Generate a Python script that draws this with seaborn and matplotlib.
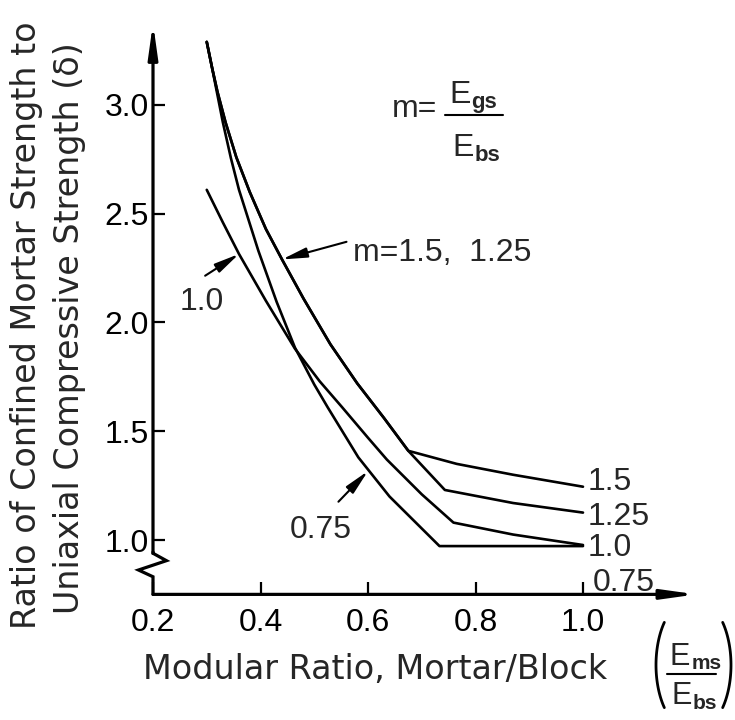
import matplotlib
matplotlib.use("Agg")
import matplotlib.pyplot as plt
from matplotlib.lines import Line2D
import numpy as np
import seaborn as sns

# ---------------- data ----------------
x_ticks = [0.2, 0.4, 0.6, 0.8, 1.0]
x_tick_labels = ["0.2", "0.4", "0.6", "0.8", "1.0"]
y_ticks = [1.0, 1.5, 2.0, 2.5, 3.0]
y_tick_labels = ["1.0", "1.5", "2.0", "2.5", "3.0"]

m_labels = ["1.5", "1.25", "1.0", "0.75"]

m150_x = [0.300, 0.310, 0.320, 0.335, 0.355, 0.380, 0.410, 0.440, 0.480, 0.530, 0.580, 0.630, 0.675, 0.765, 0.870, 1.000]
m150_y = [3.29, 3.17, 3.06, 2.92, 2.76, 2.60, 2.43, 2.29, 2.11, 1.90, 1.72, 1.56, 1.41, 1.35, 1.30, 1.245]

m125_x = [0.300, 0.310, 0.320, 0.335, 0.355, 0.380, 0.410, 0.440, 0.480, 0.530, 0.580, 0.630, 0.675, 0.743, 0.870, 1.000]
m125_y = [3.29, 3.17, 3.06, 2.92, 2.76, 2.60, 2.43, 2.29, 2.11, 1.90, 1.72, 1.56, 1.41, 1.23, 1.17, 1.126]

m100_x = [0.300, 0.330, 0.360, 0.410, 0.464, 0.510, 0.552, 0.600, 0.635, 0.700, 0.759, 0.870, 1.000]
m100_y = [2.61, 2.46, 2.315, 2.10, 1.88, 1.73, 1.61, 1.47, 1.37, 1.21, 1.08, 1.025, 0.977]

m075_x = [0.300, 0.310, 0.318, 0.330, 0.345, 0.360, 0.396, 0.430, 0.464, 0.500, 0.525, 0.582, 0.640, 0.733, 1.000]
m075_y = [3.29, 3.17, 3.07, 2.92, 2.755, 2.61, 2.33, 2.095, 1.885, 1.715, 1.61, 1.38, 1.20, 0.972, 0.972]

series = {"1.5": (m150_x, m150_y), "1.25": (m125_x, m125_y),
          "1.0": (m100_x, m100_y), "0.75": (m075_x, m075_y)}

# ---------------- style ----------------
W, H = 735, 720
sns.set_theme(style="white")
NUM_FAMILY = ["Liberation Sans", "DejaVu Sans"]
LABEL_FAMILY = ["DejaVu Sans"]
plt.rcParams["font.family"] = NUM_FAMILY

fig = plt.figure(figsize=(W / 100, H / 100), dpi=100)
fig.patch.set_facecolor("white")

X0_PX, X_SCALE = 153, 537.5   # x = 0.2 at pixel column 153
Y1_PX, Y_SCALE = 540, 217.5   # y = 1.0 at pixel row 540
xlim = (0.2, 1.25)
ylim = (0.75, 3.4)
right_px = X0_PX + (xlim[1] - xlim[0]) * X_SCALE
bottom_py = Y1_PX + (1 - ylim[0]) * Y_SCALE
top_py = Y1_PX - (ylim[1] - 1) * Y_SCALE
ax = fig.add_axes([X0_PX / W, 1 - bottom_py / H, (right_px - X0_PX) / W, (bottom_py - top_py) / H])
ax.set_xlim(*xlim)
ax.set_ylim(*ylim)
ax.patch.set_alpha(0)
for s in ax.spines.values():
    s.set_visible(False)
ax.grid(False)

def fx(px):
    return np.asarray(px) / W

def fy(py):
    return 1 - np.asarray(py) / H

# ---------------- curves ----------------
for m in m_labels:
    xs, ys = series[m]
    sns.lineplot(x=xs, y=ys, ax=ax, color="black", lw=1.9, sort=False,
                 estimator=None, legend=False)

# ---------------- axes with arrows and break ----------------
axis_lw = 2.3
ax.plot([0.2, 0.2, 0.225, 0.173, 0.2, 0.2], [0.945, 0.939, 0.905, 0.862, 0.831, 0.75],
        color="black", lw=axis_lw, clip_on=False, solid_joinstyle="miter")
head = "-|>,head_length=1.0,head_width=0.14"
ax.annotate("", xy=(0.2, 3.377), xytext=(0.2, 0.939), annotation_clip=False,
            arrowprops=dict(arrowstyle=head, color="black", lw=axis_lw,
                            shrinkA=0, shrinkB=0, mutation_scale=20))
ax.annotate("", xy=(1.211, 0.75), xytext=(0.2, 0.75), annotation_clip=False,
            arrowprops=dict(arrowstyle=head, color="black", lw=axis_lw,
                            shrinkA=0, shrinkB=0, mutation_scale=20))

NUM_FS = 23
ax.set_xticks(x_ticks)
ax.set_xticklabels(x_tick_labels)
ax.set_yticks(y_ticks)
ax.set_yticklabels(y_tick_labels)
ax.tick_params(axis="both", which="major", direction="in", length=8.5, width=1.6,
               color="black", labelsize=NUM_FS, labelcolor="black",
               bottom=True, left=True, top=False, right=False)
ax.tick_params(axis="x", pad=10)
ax.tick_params(axis="y", pad=3)

# ---------------- curve labels and arrows ----------------
arrow_kw = dict(arrowstyle="-|>,head_length=0.75,head_width=0.15", color="black",
                lw=1.5, shrinkA=0, shrinkB=0, mutation_scale=20)

ax.text(0.572, 2.283, "m=1.5,  1.25", fontsize=NUM_FS, ha="left", va="baseline")
ax.annotate("", xy=(0.440, 2.29), xytext=(0.560, 2.371), arrowprops=arrow_kw)

ax.text(0.250, 2.057, "1.0", fontsize=NUM_FS, ha="left", va="baseline")
ax.annotate("", xy=(0.360, 2.315), xytext=(0.297, 2.215), arrowprops=arrow_kw)

ax.text(0.455, 1.009, "0.75", fontsize=NUM_FS, ha="left", va="baseline")
ax.annotate("", xy=(0.600, 1.317), xytext=(0.545, 1.176), arrowprops=arrow_kw)

end_label_pos = {"1.5": (1.009, 1.230), "1.25": (1.009, 1.069),
                 "1.0": (1.009, 0.926), "0.75": (1.019, 0.766)}
for m in m_labels:
    px_, py_ = end_label_pos[m]
    ax.text(px_, py_, m, fontsize=NUM_FS, ha="left", va="baseline", clip_on=False)

# ---------------- helper for E with bold subscript ----------------
renderer = fig.canvas.get_renderer()

def e_sub(x_px, base_py, sub, fs=23, sub_fs=16, drop=5):
    t = fig.text(fx(x_px), fy(base_py), "E", fontsize=fs, ha="left", va="baseline",
                 family=NUM_FAMILY)
    bb = t.get_window_extent(renderer)
    fig.text(fx(bb.x1 + 1), fy(base_py + drop), sub, fontsize=sub_fs, fontweight="bold",
             ha="left", va="baseline", family=NUM_FAMILY)

# ---------------- m = Egs / Ebs ----------------
fig.text(fx(392), fy(117), "m=", fontsize=NUM_FS, ha="left", va="baseline")
e_sub(449, 103, "gs")
fig.add_artist(Line2D(fx([445, 503]), fy([115, 115]), color="black", lw=1.5))
e_sub(452, 156, "bs")

# ---------------- axis titles ----------------
fig.text(fx(27), fy(325), "Ratio of Confined Mortar Strength to", rotation=90,
         ha="center", va="center", fontsize=24, family=LABEL_FAMILY)
fig.text(fx(70), fy(328), "Uniaxial Compressive Strength (δ)", rotation=90,
         ha="center", va="center", fontsize=24, family=LABEL_FAMILY)
fig.text(fx(143), fy(679), "Modular Ratio, Mortar/Block", ha="left", va="baseline",
         fontsize=24, family=LABEL_FAMILY)

e_sub(670, 665, "ms", fs=22, sub_fs=15, drop=4)
fig.add_artist(Line2D(fx([667, 716]), fy([674, 674]), color="black", lw=1.5))
e_sub(671, 704, "bs", fs=22, sub_fs=15)

# big parentheses as elliptical arcs
t = np.radians(np.linspace(139, 221, 40))
cy, a, b = 665, 34, 65
ly = cy - b * np.sin(t)
fig.add_artist(Line2D(fx(690 + a * np.cos(t)), fy(ly), color="black", lw=2.0))
fig.add_artist(Line2D(fx(697 - a * np.cos(t)), fy(ly), color="black", lw=2.0))

fig.savefig("out.png", dpi=100, facecolor="white")
